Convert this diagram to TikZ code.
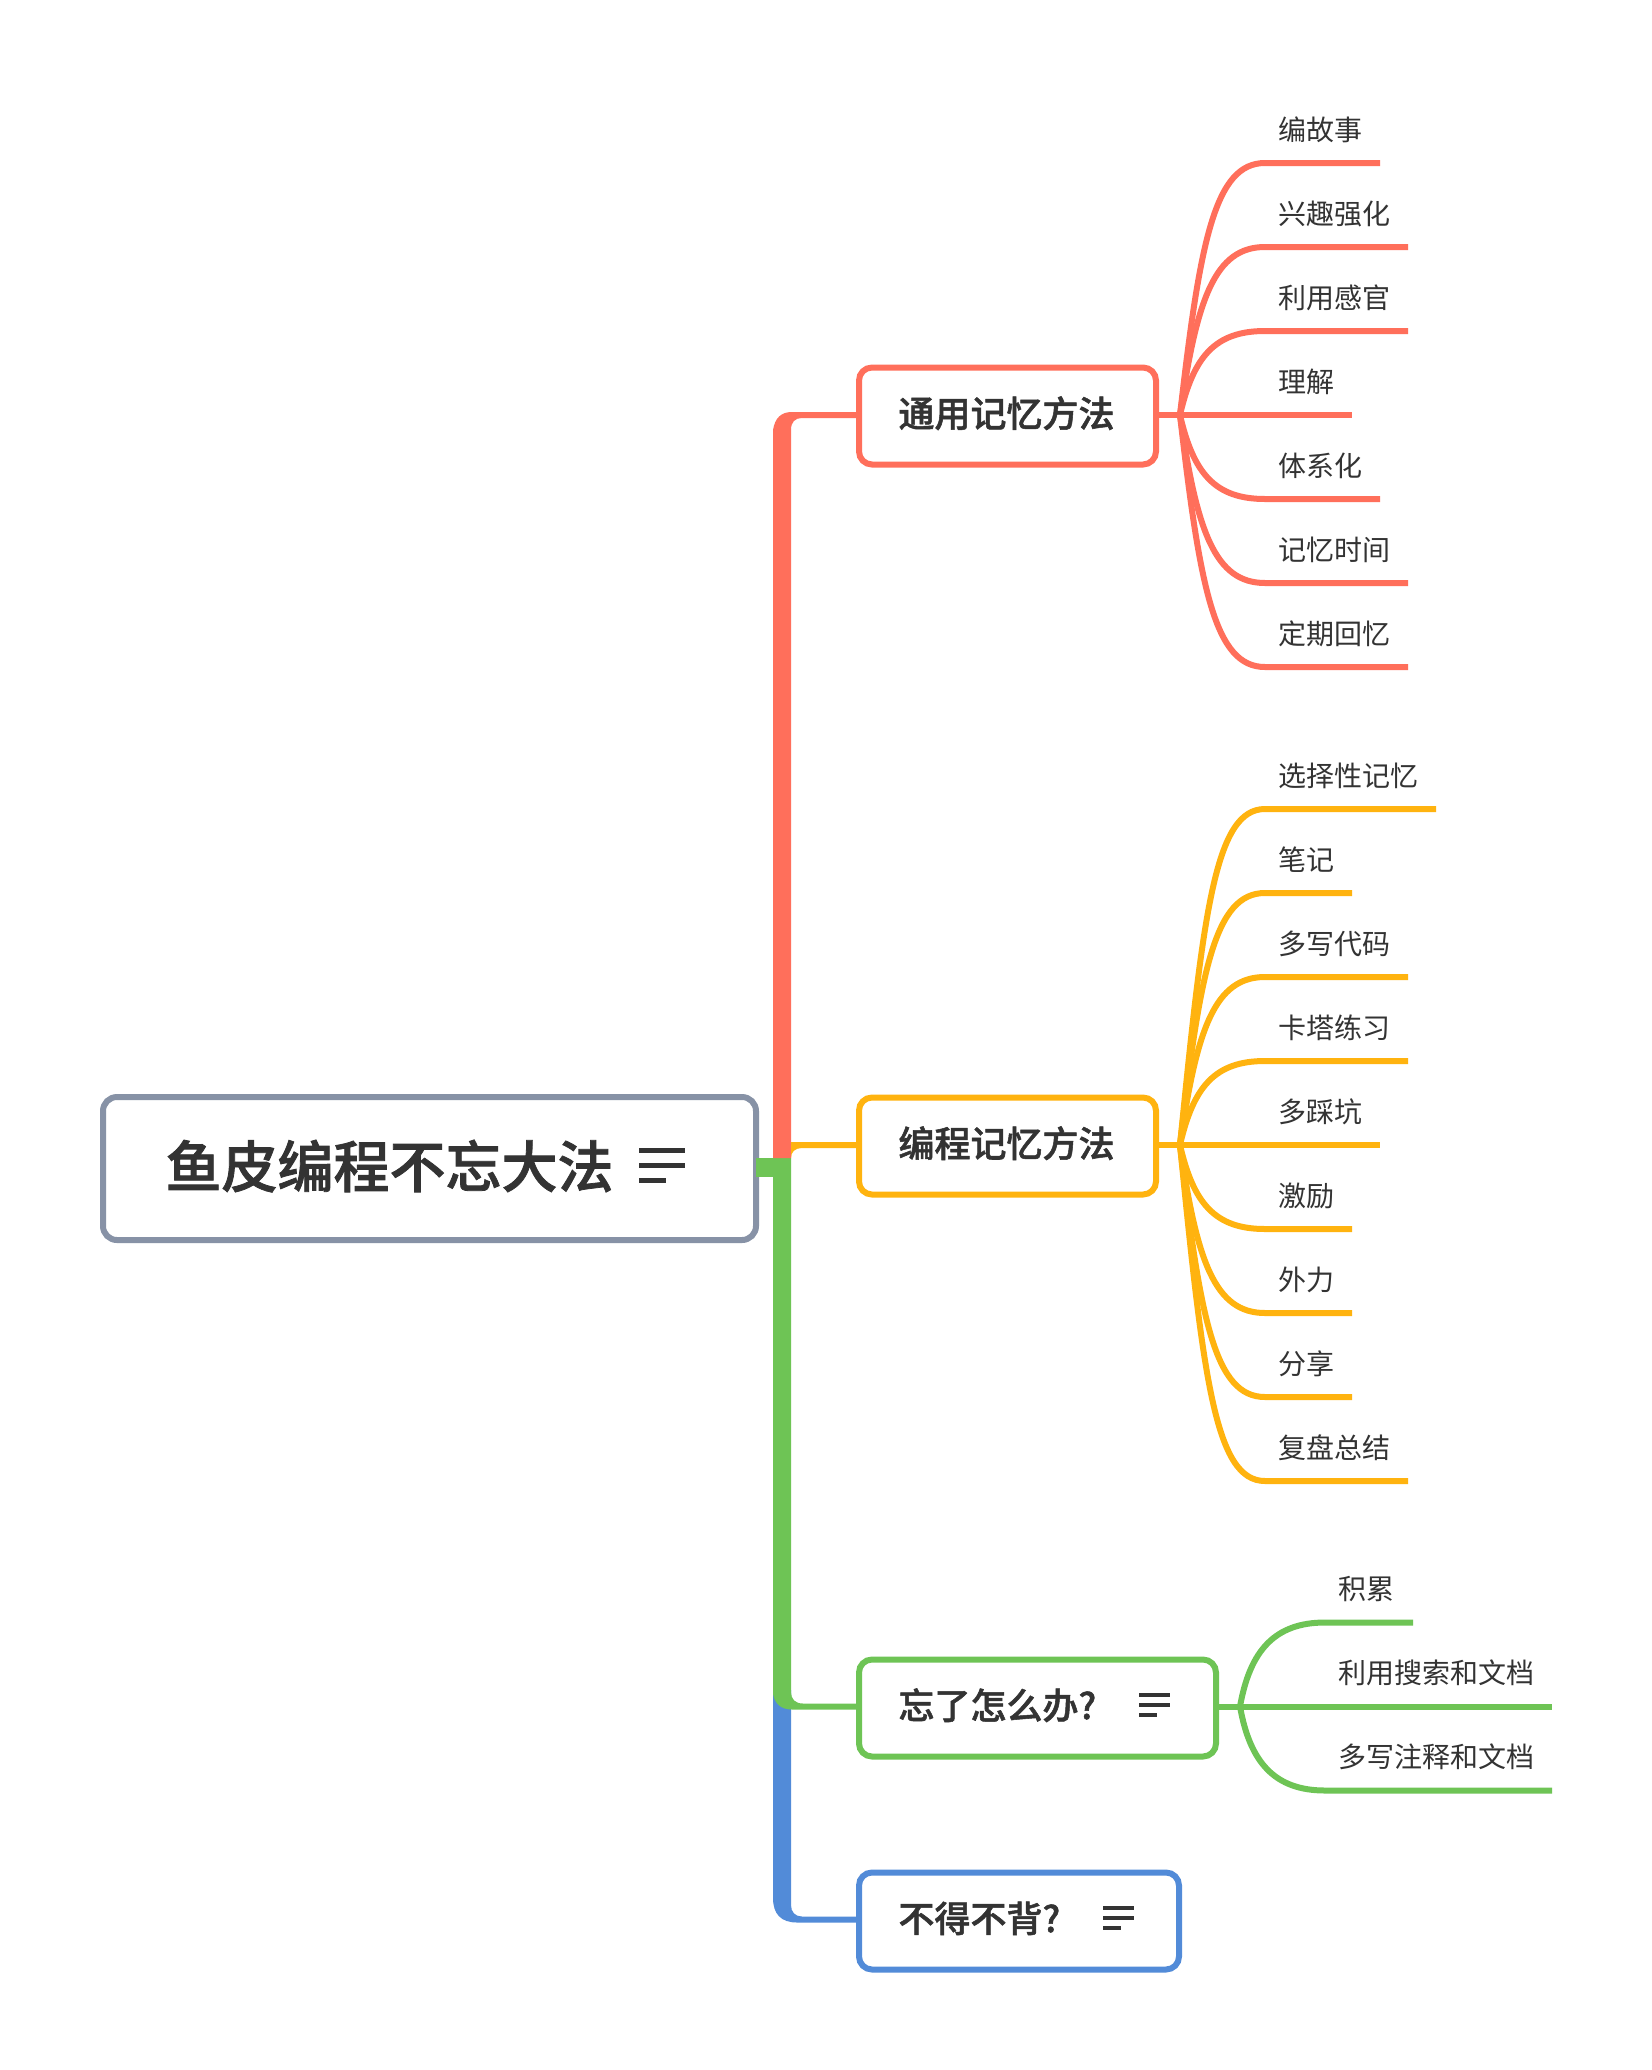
\documentclass[tikz,border=0pt]{standalone}
\usepackage{fontspec}
\setmainfont{Noto Sans CJK SC}
\newfontfamily\cjkmed{Noto Sans CJK SC Medium}[FakeBold=1.4]
\usetikzlibrary{calc}
\definecolor{cr}{HTML}{FF6F5B}
\definecolor{cy}{HTML}{FFB30F}
\definecolor{cg}{HTML}{6EC455}
\definecolor{cb}{HTML}{528BD8}
\definecolor{cm}{HTML}{8792A6}
\definecolor{ct}{HTML}{333333}
\tikzset{
  x=1pt,y=-1pt,
  boxbase/.style={draw,rounded corners=13pt,line width=6pt,fill=white,inner sep=0pt,outer sep=0pt,align=left,text=ct,font=\cjkmed\fontsize{36}{40}\selectfont,minimum height=97pt,text height=30pt,text depth=8pt},
  rootbox/.style={boxbase,draw=cm,rounded corners=14pt,font=\cjkmed\fontsize{56}{60}\selectfont,minimum height=143pt,text height=47pt,text depth=9pt},
  leaf/.style={anchor=west,inner sep=0pt,text=ct,font=\fontsize{28}{32}\selectfont,text height=24pt,text depth=4pt},
  branch/.style={line width=6pt},
  icon/.style={ct,line width=3.5pt},
  bigicon/.style={ct,line width=5pt}
}
% colour, junction name, jy, jx, c1 dx base, c1 dx per 252 of rise, c1 fraction, list
\newcommand{\leaves}[8]{%
  \foreach \n/\ey/\ex/\tx/\tl in {#8}{
    \pgfmathsetmacro{\rise}{abs(#3-\ey)}
    \pgfmathsetmacro{\cya}{\ey+#7*(#3-\ey)}
    \pgfmathsetmacro{\cxa}{#4+#5+#6*\rise/252}
    \coordinate (#2e\n) at (\ex,\ey);
    \draw[branch,#1] (#2) .. controls (\cxa,\cya) and (#4+35,\ey) .. (#4+85,\ey) -- (#2e\n);
    \node[leaf] (#2t\n) at (\tx,\ey-33) {\tl};
  }
}
\begin{document}
\begin{tikzpicture}
\useasboundingbox (0,0) rectangle (1652,2070);
\fill[white] (0,0) rectangle (1652,2070);
% boxes
\node[rootbox,text width=653pt,minimum width=653pt] (root) at (429.5,1168.5) {\hspace*{62.5pt}鱼皮编程不忘大法};
\node[boxbase,draw=cr,text width=297pt,minimum width=297pt] (red) at (1007.5,416) {\hspace*{39.5pt}通用记忆方法};
\node[boxbase,draw=cy,text width=297pt,minimum width=297pt] (yel) at (1007.5,1146) {\hspace*{39.5pt}编程记忆方法};
\node[boxbase,draw=cg,text width=357pt,minimum width=357pt] (grn) at (1037.5,1708) {\hspace*{39.5pt}忘了怎么办?};
\node[boxbase,draw=cb,text width=320pt,minimum width=320pt] (blu) at (1019,1921) {\hspace*{39.5pt}不得不背?};
\coordinate (rj) at (1180,415);
\coordinate (yj) at (1180,1145);
\coordinate (gj) at (1240,1706.5);
% trunks
\fill[cb] (773,1690) -- (773,1898) .. controls (773,1914) and (781,1922.5) .. (797,1922.5) -- ($(blu.west)+(0,1.5)$) -- ($(blu.west)+(0,-4.5)$) -- (802,1916.5) .. controls (795,1916.5) and (791,1912) .. (791,1905) -- (791,1690) -- cycle;
\fill[cg] (773,1158) -- (773,1694) .. controls (775,1704) and (781,1709.5) .. (792,1709.5) -- ($(grn.west)+(0,1.5)$) -- ($(grn.west)+(0,-4.5)$) -- (803,1703.5) .. controls (795,1703.5) and (791,1699) .. (791,1692) -- (791,1158) -- cycle;
\fill[cr] (773,1158) -- (773,430) .. controls (775,418) and (781,412) .. (792,412) -- ($(red.west)+(0,-4)$) -- ($(red.west)+(0,2)$) -- (802,418) .. controls (795,418) and (791,422) .. (791,430) -- (791,1158) -- cycle;
\fill[cy] (791,1158) .. controls (791,1152) and (795,1148) .. (802,1148) -- ($(yel.west)+(0,2)$) -- ($(yel.west)+(0,-4)$) -- (791,1142) -- cycle;
\fill[cg] ($(root.east)+(0,-10.5)$) rectangle (773,1177);
% stubs
\draw[branch,cr] (red.east |- rj) -- (rj);
\draw[branch,cy] (yel.east |- yj) -- (yj);
\draw[branch,cg] (grn.east |- gj) -- (gj);
% leaves
\leaves{cr}{rj}{415}{1180}{10}{10}{0.305}{1/163/1380/1278/编故事,2/247/1408/1278/兴趣强化,3/331/1408/1278/利用感官,4/415/1352/1278/理解,5/499/1380/1278/体系化,6/583/1408/1278/记忆时间,7/667/1408/1278/定期回忆}
\leaves{cy}{yj}{1145}{1180}{10}{10}{0.305}{1/809/1436/1278/选择性记忆,2/893/1352/1278/笔记,3/977/1408/1278/多写代码,4/1061/1408/1278/卡塔练习,5/1145/1380/1278/多踩坑,6/1229/1352/1278/激励,7/1313/1352/1278/外力,8/1397/1352/1278/分享,9/1481/1408/1278/复盘总结}
\leaves{cg}{gj}{1706.5}{1240}{10}{0}{0.33}{1/1622.5/1413/1338/积累,2/1706.5/1552/1338/利用搜索和文档,3/1790.5/1552/1338/多写注释和文档}
% icons
\draw[bigicon] (639,1150) -- (685,1150) (639,1165) -- (685,1165) (639,1180) -- (666,1180);
\draw[icon] (1139,1695) -- (1170,1695) (1139,1705) -- (1170,1705) (1139,1715) -- (1157,1715);
\draw[icon] (1103,1908) -- (1134,1908) (1103,1918) -- (1134,1918) (1103,1928) -- (1121,1928);
\end{tikzpicture}
\end{document}
